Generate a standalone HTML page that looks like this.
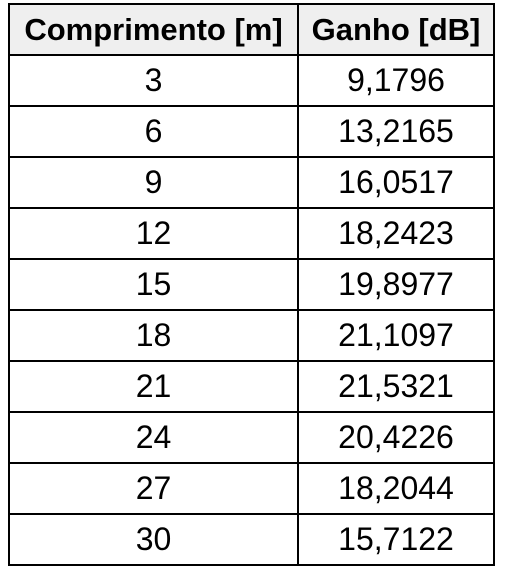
<!DOCTYPE html>
<html><head><meta charset="utf-8"><style>
body{margin:0;width:505px;height:575px;background:#fff;position:relative;overflow:hidden;font-family:"Liberation Sans",Arial,sans-serif;}
table{position:absolute;left:8px;top:3px;border-collapse:collapse;}
td,th{border:2px solid #000;text-align:center;font-size:32px;padding:0;height:49px;color:#000;line-height:49px;}
th{background:#efefef;font-weight:bold;font-size:31px;}
.c1{width:287px;}.c2{width:194px;}
</style></head><body>
<table>
<thead><tr><th class="c1">Comprimento [m]</th><th class="c2">Ganho [dB]</th></tr></thead>
<tbody id="tb"></tbody>
</table>
<script>
const lengths=["3","6","9","12","15","18","21","24","27","30"];
const gains=["9,1796","13,2165","16,0517","18,2423","19,8977","21,1097","21,5321","20,4226","18,2044","15,7122"];
const tb=document.getElementById('tb');
lengths.forEach((l,i)=>{
const tr=document.createElement('tr');


const a=document.createElement('td');a.textContent=l;


const b=document.createElement('td');b.textContent=gains[i];


tr.appendChild(a);tr.appendChild(b);tb.appendChild(tr);
});
</script>
</body></html>
